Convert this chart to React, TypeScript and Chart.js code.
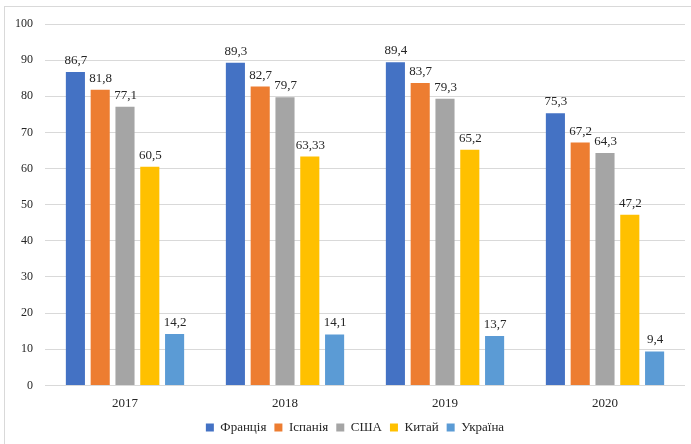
import React, { useEffect, useRef } from "react";
import { Chart, registerables } from "chart.js";

Chart.register(...registerables);

const categories = ["2017", "2018", "2019", "2020"];
const seriesNames = ["Франція", "Іспанія", "США", "Китай", "Україна"];
const france = [86.7, 89.3, 89.4, 75.3];
const spain = [81.8, 82.7, 83.7, 67.2];
const usa = [77.1, 79.7, 79.3, 64.3];
const china = [60.5, 63.33, 65.2, 47.2];
const ukraine = [14.2, 14.1, 13.7, 9.4];
const colors = ["#4472C4", "#ED7D31", "#A5A5A5", "#FFC000", "#5B9BD5"];
const yTicks = [0, 10, 20, 30, 40, 50, 60, 70, 80, 90, 100];

const FONT = "'Liberation Serif', 'Times New Roman', serif";

const labelPlugin = {
  id: "barLabels",
  afterLayout(chart: any) {
    const lg = chart.legend;
    if (lg) {
      lg.left += 10;
      lg.right += 10;
    }
  },
  afterDatasetsDraw(chart: any) {
    const ctx = chart.ctx;
    ctx.save();
    ctx.font = `13px ${FONT}`;
    ctx.fillStyle = "#262626";
    ctx.textAlign = "center";
    ctx.textBaseline = "alphabetic";
    chart.data.datasets.forEach((ds: any, i: number) => {
      const meta = chart.getDatasetMeta(i);
      meta.data.forEach((bar: any, j: number) => {
        const v = ds.data[j];
        ctx.fillText(String(v).replace(".", ","), bar.x + 0.5, bar.y - 8);
      });
    });
    ctx.restore();
  },
};

export default function App() {
  const ref = useRef<HTMLCanvasElement | null>(null);
  useEffect(() => {
    document.body.style.margin = "0";
    const data = [france, spain, usa, china, ukraine];
    const chart = new Chart(ref.current!, {
      type: "bar",
      data: {
        labels: categories,
        datasets: seriesNames.map((n, i) => ({
          label: n,
          data: data[i],
          backgroundColor: colors[i],
          borderWidth: 0,
          categoryPercentage: 0.775,
          barPercentage: 0.77,
        })),
      },
      options: {
        animation: false,
        responsive: false,
        devicePixelRatio: 1,
        layout: { padding: { left: 5, right: 6, top: 24, bottom: 0 } },
        plugins: {
          legend: {
            position: "bottom",
            labels: {
              boxWidth: 8,
              boxHeight: 8,
              padding: 8,
              color: "#262626",
              font: { family: FONT, size: 13 },
            },
          },
          tooltip: { enabled: false },
        },
        scales: {
          x: {
            grid: { display: false },
            border: { display: false },
            ticks: { color: "#262626", font: { family: FONT, size: 13 }, padding: 2 },
          },
          y: {
            min: 0,
            max: 100,
            afterBuildTicks: (axis: any) => {
              axis.ticks = yTicks.map((v) => ({ value: v }));
            },
            afterFit: (axis: any) => {
              axis.width = 40;
            },
            grid: { color: "#d9d9d9", lineWidth: 1, drawTicks: false },
            border: { display: false },
            ticks: { color: "#262626", font: { family: FONT, size: 12 }, padding: 12 },
          },
        },
      },
      plugins: [labelPlugin],
    });
    return () => chart.destroy();
  }, []);
  return (
    <div style={{ position: "relative", width: 691, height: 444, background: "#fff", overflow: "hidden" }}>
      <div
        style={{
          position: "absolute",
          left: 4,
          top: 6,
          width: 700,
          height: 460,
          border: "1px solid #d9d9d9",
          boxSizing: "border-box",
        }}
      />
      <canvas ref={ref} width={691} height={444} style={{ position: "absolute", left: 0, top: 0 }} />
    </div>
  );
}
